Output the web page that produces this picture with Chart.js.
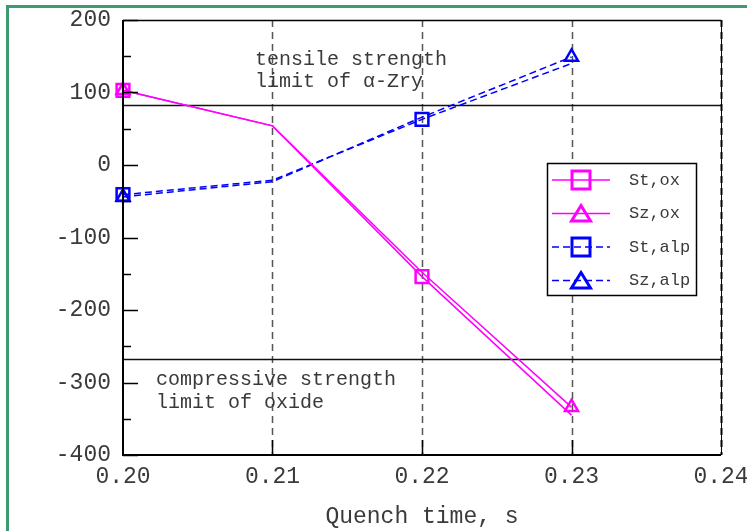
<!DOCTYPE html>
<html>
<head>
<meta charset="utf-8">
<script src="https://cdn.jsdelivr.net/npm/chart.js@4.4.1/dist/chart.umd.min.js"></script>
<style>
  html, body { margin: 0; padding: 0; background: #fff; }
  #wrap { position: relative; width: 747px; height: 531px; overflow: hidden; }
  #frame {
    position: absolute; left: 6px; top: 5px; width: 780px; height: 560px;
    border: 3px solid #3f9b6f; box-sizing: border-box; pointer-events: none;
  }
</style>
</head>
<body>
<div id="wrap">
  <canvas id="grafico" width="747" height="531"></canvas>
  <div id="frame"></div>
</div>
<script>
// quench time (s)
const tempos = [0.20, 0.21, 0.22, 0.23];

// stress values
const stOx  = [103, 54, -154, -345];
const szOx  = [103, 54, -148, -334];
const stAlp = [-41, -21, 63, 140];
const szAlp = [-44, -23, 66, 149];

// which points carry a marker
const marcasQuadrado = [0, 2];
const marcasTriangulo = [0, 3];

// strength limits (horizontal lines)
const limiteTracao = 83;
const limiteCompressao = -268;

const xTicks = [0.20, 0.21, 0.22, 0.23, 0.24];
const yTicks = [-400, -300, -200, -100, 0, 100, 200];
const yMinor = [-350, -250, -150, -50, 50, 150];

const textoTracao = ['tensile strength', 'limit of \u03b1-Zry'];
const textoCompressao = ['compressive strength', 'limit of oxide'];

const MONO = '"Liberation Mono", "Courier New", monospace';
const TEXTO = '#3a3a3a';

const pontos = arr => tempos.map((t, i) => ({ x: t, y: arr[i] }));
const raio = (idx, r) => ctx => idx.includes(ctx.dataIndex) ? r : 0;

const molduraPlugin = {
  id: 'moldura',
  beforeDatasetsDraw(chart) {
    const { ctx, chartArea: a, scales: { x, y } } = chart;
    ctx.save();

    // vertical dashed grid
    ctx.strokeStyle = '#555';
    ctx.setLineDash([7, 5]);
    xTicks.slice(1).forEach(t => {
      const px = Math.round(x.getPixelForValue(t)) + 0.5;
      ctx.lineWidth = t === 0.24 ? 2.5 : 1.5;
      ctx.beginPath();
      ctx.moveTo(px, a.top);
      ctx.lineTo(px, a.bottom);
      ctx.stroke();
    });
    ctx.setLineDash([]);

    // limit lines
    ctx.strokeStyle = '#111';
    ctx.lineWidth = 1.3;
    [limiteTracao, limiteCompressao].forEach(v => {
      const py = Math.round(y.getPixelForValue(v)) + 0.5;
      ctx.beginPath();
      ctx.moveTo(a.left, py);
      ctx.lineTo(a.right, py);
      ctx.stroke();
    });

    // annotation text
    ctx.fillStyle = TEXTO;
    ctx.font = '20px ' + MONO;
    ctx.textBaseline = 'middle';
    ctx.textAlign = 'left';
    textoTracao.forEach((s, i) => ctx.fillText(s, a.left + 132, a.top + 40 + i * 22));
    textoCompressao.forEach((s, i) => ctx.fillText(s, a.left + 33, a.top + 360 + i * 23));

    ctx.restore();
  },
  afterDatasetsDraw(chart) {
    const { ctx, chartArea: a, scales: { x, y } } = chart;
    ctx.save();

    // frame
    ctx.strokeStyle = '#000';
    ctx.lineWidth = 1.5;
    ctx.beginPath();
    ctx.moveTo(a.left, a.top + 0.5);
    ctx.lineTo(a.right, a.top + 0.5);
    ctx.stroke();
    ctx.lineWidth = 1;
    ctx.beginPath();
    ctx.moveTo(a.right + 0.5, a.top);
    ctx.lineTo(a.right + 0.5, a.bottom);
    ctx.stroke();
    ctx.lineWidth = 2;
    ctx.beginPath();
    ctx.moveTo(a.left, a.top);
    ctx.lineTo(a.left, a.bottom);
    ctx.lineTo(a.right, a.bottom);
    ctx.stroke();

    // inward ticks
    ctx.lineWidth = 1.5;
    yTicks.forEach(v => {
      const py = Math.round(y.getPixelForValue(v)) + 0.5;
      ctx.beginPath(); ctx.moveTo(a.left, py); ctx.lineTo(a.left + 15, py); ctx.stroke();
    });
    yMinor.forEach(v => {
      const py = Math.round(y.getPixelForValue(v)) + 0.5;
      ctx.beginPath(); ctx.moveTo(a.left, py); ctx.lineTo(a.left + 8, py); ctx.stroke();
    });
    xTicks.slice(1, -1).forEach(t => {
      const px = Math.round(x.getPixelForValue(t)) + 0.5;
      ctx.beginPath(); ctx.moveTo(px, a.bottom); ctx.lineTo(px, a.bottom - 15); ctx.stroke();
    });

    // legend
    const lx = 547, ly = 163, lw = 149, lh = 132;
    ctx.fillStyle = '#fff';
    ctx.fillRect(lx, ly, lw, lh);
    ctx.strokeStyle = '#000';
    ctx.lineWidth = 1.5;
    ctx.strokeRect(lx + 0.5, ly + 0.5, lw, lh);

    chart.data.datasets.forEach((ds, i) => {
      const cy = ly + 17 + i * 33.5;
      ctx.strokeStyle = ds.borderColor;
      ctx.lineWidth = 1.5;
      ctx.setLineDash(ds.borderDash || []);
      ctx.beginPath();
      ctx.moveTo(lx + 5, cy);
      ctx.lineTo(lx + 63, cy);
      ctx.stroke();
      ctx.setLineDash([]);
      ctx.lineWidth = 3;
      const cx = lx + 34;
      ctx.beginPath();
      if (ds.pointStyle === 'rect') {
        ctx.rect(cx - 9, cy - 9, 18, 18);
      } else {
        ctx.moveTo(cx, cy - 8);
        ctx.lineTo(cx + 9.5, cy + 7.5);
        ctx.lineTo(cx - 9.5, cy + 7.5);
        ctx.closePath();
      }
      ctx.stroke();
      ctx.fillStyle = TEXTO;
      ctx.font = '17px ' + MONO;
      ctx.textBaseline = 'middle';
      ctx.textAlign = 'left';
      ctx.fillText(ds.label, lx + 82, cy);
    });

    ctx.restore();
  }
};

function serie(label, arr, cor, estilo, idx, tracejado) {
  return {
    label,
    data: pontos(arr),
    borderColor: cor,
    borderWidth: 1.5,
    borderDash: tracejado ? [7, 4] : [],
    pointStyle: estilo,
    pointRadius: raio(idx, estilo === 'rect' ? 9 : 7.5),
    pointBorderWidth: 2.5,
    pointBorderColor: cor,
    pointBackgroundColor: 'rgba(0,0,0,0)',
    tension: 0,
    fill: false,
    clip: false
  };
}

const grafico = new Chart(document.getElementById('grafico'), {
  type: 'line',
  data: {
    datasets: [
      serie('St,ox', stOx, '#ff00ff', 'rect', marcasQuadrado, false),
      serie('Sz,ox', szOx, '#ff00ff', 'triangle', marcasTriangulo, false),
      serie('St,alp', stAlp, '#0000ff', 'rect', marcasQuadrado, true),
      serie('Sz,alp', szAlp, '#0000ff', 'triangle', marcasTriangulo, true)
    ]
  },
  options: {
    responsive: false,
    animation: false,
    devicePixelRatio: 1,
    layout: { padding: { top: 20, right: 26, left: 0, bottom: 0 } },
    plugins: { legend: { display: false }, tooltip: { enabled: false } },
    scales: {
      x: {
        type: 'linear',
        min: 0.20,
        max: 0.24,
        afterBuildTicks: s => { s.ticks = xTicks.map(v => ({ value: v })); },
        afterFit: s => { s.height = 76; s.paddingLeft = 0; s.paddingRight = 0; },
        grid: { display: false },
        border: { display: false },
        ticks: {
          padding: 0,
          color: TEXTO,
          font: { family: MONO, size: 23 },
          maxRotation: 0,
          autoSkip: false,
          callback: v => v.toFixed(2)
        },
        title: {
          display: true,
          text: 'Quench time, s',
          color: TEXTO,
          font: { family: MONO, size: 23 },
          padding: { top: 0, bottom: 0 }
        }
      },
      y: {
        min: -400,
        max: 200,
        afterBuildTicks: s => { s.ticks = yTicks.map(v => ({ value: v })); },
        afterFit: s => { s.width = 123; s.paddingTop = 0; s.paddingBottom = 0; },
        grid: { display: false },
        border: { display: false },
        ticks: {
          padding: 4,
          color: TEXTO,
          font: { family: MONO, size: 23 },
          callback: v => String(v)
        }
      }
    }
  },
  plugins: [molduraPlugin]
});
</script>
</body>
</html>
